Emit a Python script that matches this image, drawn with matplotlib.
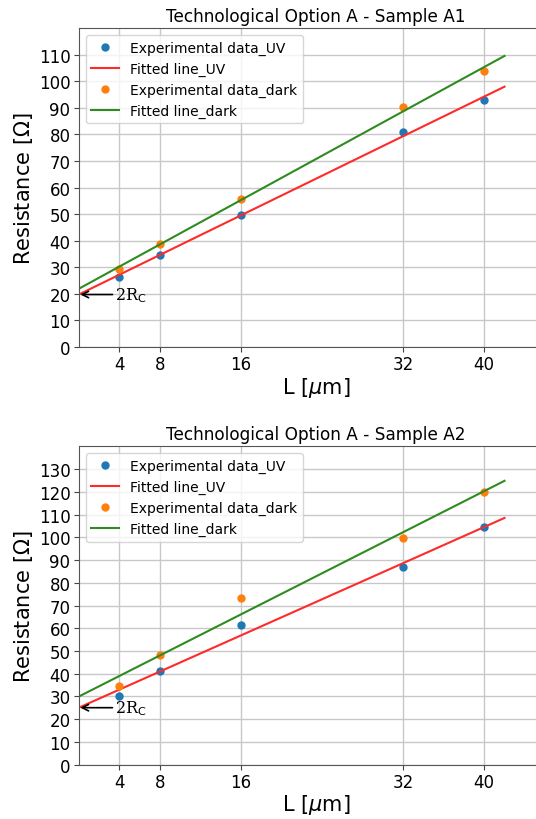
import numpy as np
import matplotlib
matplotlib.use("Agg")
import matplotlib.pyplot as plt

# channel lengths [um]
L = [4, 8, 16, 32, 40]

# sample A1
a1_uv = [26.5, 34.8, 49.8, 81.0, 92.8]
a1_dark = [29.5, 38.8, 55.6, 90.2, 104.0]

# sample A2
a2_uv = [30.1, 41.3, 61.4, 86.8, 104.4]
a2_dark = [34.5, 48.4, 73.3, 99.5, 120.0]

titles = ["Technological Option A - Sample A1", "Technological Option A - Sample A2"]
ylims = [120, 140]
x_fit_end = 42


def draw_panel(ax, uv, dark, title, ytop):
    x = np.array(L, dtype=float)
    xf = np.linspace(0, x_fit_end, 50)
    k_uv, b_uv = np.polyfit(x, uv, 1)
    k_dk, b_dk = np.polyfit(x, dark, 1)

    ax.plot(x, uv, "o", color="tab:blue", ms=5, label="Experimental data_UV")
    ax.plot(xf, k_uv * xf + b_uv, color="#ff2a2a", lw=1.5, label="Fitted line_UV")
    ax.plot(x, dark, "o", color="tab:orange", ms=5, label="Experimental data_dark")
    ax.plot(xf, k_dk * xf + b_dk, color="#2e8b1f", lw=1.5, label="Fitted line_dark")

    ax.annotate("2R$_\\mathrm{C}$", xy=(0.15, b_uv), xytext=(3.6, b_uv),
                va="center", ha="left", fontsize=11.5, family="DejaVu Serif",
                arrowprops=dict(arrowstyle="->", color="black", lw=1.2,
                                shrinkA=0, shrinkB=0))

    ax.set_xlim(0, 46.8)
    ax.set_ylim(0, ytop)
    ax.set_xticks(L)
    ax.set_yticks(np.arange(0, ytop, 10))
    ax.tick_params(labelsize=12, color="#444444", pad=2.5)
    ax.grid(True, color="#c8c8c8", lw=1)
    ax.set_axisbelow(True)
    for s in ax.spines.values():
        s.set_color("#555555")
    ax.spines["right"].set_visible(False)
    ax.set_title(title, fontsize=12.2, pad=5)
    ax.set_xlabel("L [$\\mu$m]", fontsize=15, labelpad=1)
    ax.set_ylabel("Resistance [$\\Omega$]", fontsize=15, labelpad=3)
    ax.legend(loc="upper left", fontsize=10, framealpha=0.8)


plt.rcParams["mathtext.fontset"] = "dejavusans"
fig = plt.figure(figsize=(5.36, 8.2), dpi=100)
ax1 = fig.add_axes([0.147, 0.5756, 0.885, 0.389])
ax2 = fig.add_axes([0.147, 0.0662, 0.885, 0.3883])

draw_panel(ax1, a1_uv, a1_dark, titles[0], ylims[0])
draw_panel(ax2, a2_uv, a2_dark, titles[1], ylims[1])

fig.savefig("out.png", dpi=100)
